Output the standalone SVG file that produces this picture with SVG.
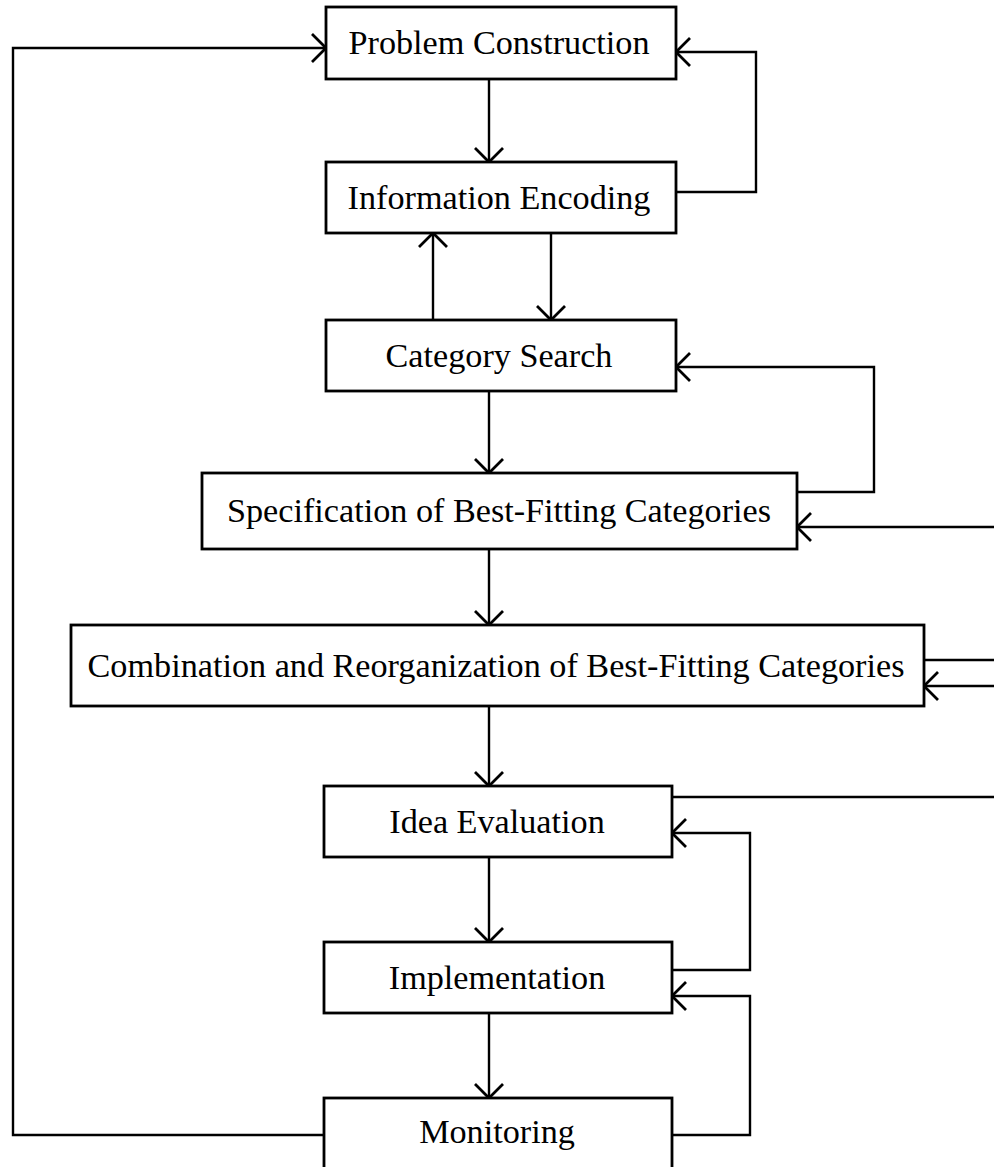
<svg xmlns="http://www.w3.org/2000/svg" width="994" height="1167" viewBox="0 0 994 1167">
<style>
.box{fill:#fff;stroke:#000;stroke-width:2.8}
.lbl{font-family:"Liberation Serif","Times New Roman",serif;font-size:34.2px;fill:#000;text-anchor:middle}
.ln{fill:none;stroke:#000;stroke-width:2.4}
</style>
<defs>
<marker id="ah" viewBox="-16 -16 20 32" refX="0" refY="0" markerWidth="20" markerHeight="32" markerUnits="userSpaceOnUse" orient="auto">
<path d="M-14,-14 L0,0 L-14,14" fill="none" stroke="#000" stroke-width="2.8"/>
</marker>
</defs>
<rect width="994" height="1167" fill="#fff"/>
<g id="connectors">
<path class="ln" d="M489,79 V162" marker-end="url(#ah)"/>
<path class="ln" d="M676,192 H756 V52 H676" marker-end="url(#ah)"/>
<path class="ln" d="M433,320 V233" marker-end="url(#ah)"/>
<path class="ln" d="M551,233 V320" marker-end="url(#ah)"/>
<path class="ln" d="M489,391 V473" marker-end="url(#ah)"/>
<path class="ln" d="M797,492 H874 V367 H676" marker-end="url(#ah)"/>
<path class="ln" d="M994,527 H797" marker-end="url(#ah)"/>
<path class="ln" d="M489,549 V625" marker-end="url(#ah)"/>
<path class="ln" d="M924,660 H994"/>
<path class="ln" d="M994,686 H924" marker-end="url(#ah)"/>
<path class="ln" d="M489,706 V786" marker-end="url(#ah)"/>
<path class="ln" d="M672,797 H994"/>
<path class="ln" d="M672,970 H750 V833 H672" marker-end="url(#ah)"/>
<path class="ln" d="M489,857 V942" marker-end="url(#ah)"/>
<path class="ln" d="M672,1135 H750 V996 H672" marker-end="url(#ah)"/>
<path class="ln" d="M489,1013 V1098" marker-end="url(#ah)"/>
<path class="ln" d="M324,1135 H13 V48 H326" marker-end="url(#ah)"/>
</g>
<g id="problem-construction">
<rect class="box" x="326" y="7" width="350" height="72"/>
<text class="lbl" x="499" y="54">Problem Construction</text>
</g>
<g id="information-encoding">
<rect class="box" x="326" y="162" width="350" height="71"/>
<text class="lbl" x="499" y="209">Information Encoding</text>
</g>
<g id="category-search">
<rect class="box" x="326" y="320" width="350" height="71"/>
<text class="lbl" x="499" y="367">Category Search</text>
</g>
<g id="specification">
<rect class="box" x="202" y="473" width="595" height="76"/>
<text class="lbl" x="499" y="522">Specification of Best-Fitting Categories</text>
</g>
<g id="combination">
<rect class="box" x="71" y="625" width="853" height="81"/>
<text class="lbl" x="496" y="677">Combination and Reorganization of Best-Fitting Categories</text>
</g>
<g id="idea-evaluation">
<rect class="box" x="324" y="786" width="348" height="71"/>
<text class="lbl" x="497" y="833">Idea Evaluation</text>
</g>
<g id="implementation">
<rect class="box" x="324" y="942" width="348" height="71"/>
<text class="lbl" x="497" y="989">Implementation</text>
</g>
<g id="monitoring">
<rect class="box" x="324" y="1098" width="348" height="80"/>
<text class="lbl" x="497" y="1143">Monitoring</text>
</g>
</svg>
